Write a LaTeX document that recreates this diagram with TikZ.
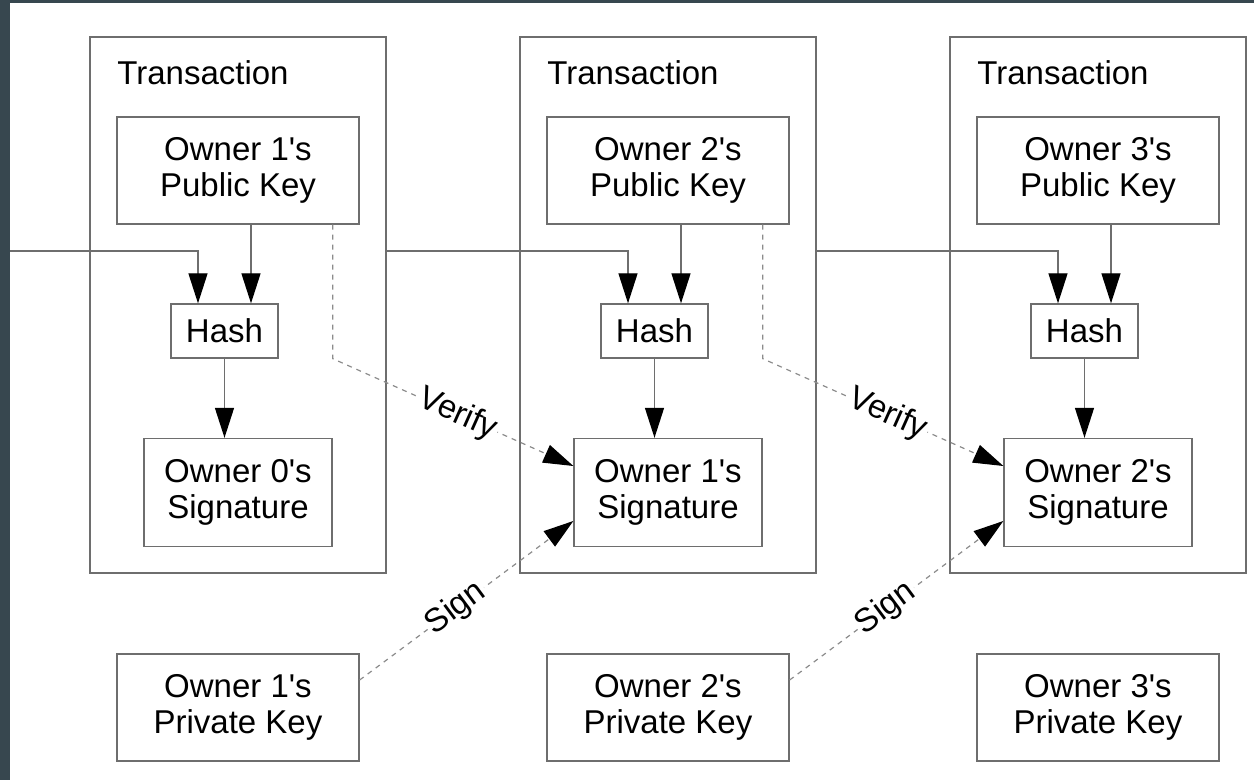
\documentclass[tikz,border=0pt]{standalone}
\usepackage{fontspec}
\setmainfont{Liberation Sans}
\usetikzlibrary{arrows.meta}
\definecolor{frame}{HTML}{37474F}
\definecolor{ln}{HTML}{6E6E6E}
\definecolor{dl}{HTML}{8C8C8C}
\newcommand{\sq}{\textquotesingle}
\begin{document}
\begin{tikzpicture}[x=0.5pt,y=-0.5pt,
  txt/.style={font=\fontsize{16.5}{18}\selectfont},
  box/.style={txt,draw=ln,line width=0.65pt,align=center,inner sep=0pt},
  tip/.style={-{Triangle[length=15pt,width=9.5pt,color=black]}},
  arr/.style={draw=ln,line width=0.65pt,tip},
  dsh/.style={draw=dl,line width=0.6pt,dash pattern=on 2.5pt off 2.5pt,tip},
  lbl/.style={txt,fill=white,inner sep=1pt,sloped}]
\fill[frame] (0,0) rectangle (1254,780);
\fill[white] (10,3) rectangle (1254,780);
\coordinate (in1) at (10,251);
\foreach \i in {1,2,3}{
  \pgfmathsetmacro{\ox}{(\i-1)*430}
  \pgfmathtruncatemacro{\p}{\i-1}
  \node[box,minimum width=148pt,minimum height=268pt] (tx\i) at (238+\ox,305) {};
  \node[txt,anchor=base west,inner sep=0pt] (tt\i) at (117+\ox,85) {Transaction};
  \node[box,minimum width=121pt,minimum height=53.5pt] (pub\i) at (238+\ox,170.5) {Owner \i\sq s\\Public Key};
  \node[box,minimum width=53.5pt,minimum height=27pt] (hash\i) at (224.5+\ox,331) {Hash};
  \node[box,minimum width=94pt,minimum height=54pt] (sig\i) at (238+\ox,492.5) {Owner \p\sq s\\Signature};
  \node[box,minimum width=121pt,minimum height=53.5pt] (priv\i) at (238+\ox,707.5) {Owner \i\sq s\\Private Key};
  \coordinate (ha\i) at ([xshift=13.25pt]hash\i.north);
  \coordinate (hb\i) at ([xshift=-13.25pt]hash\i.north);
  \draw[arr] (ha\i |- pub\i.south) -- (ha\i);
  \draw[arr] (hash\i.south) -- (hash\i.south |- sig\i.north);
  \coordinate (v\i) at ([xshift=-13.5pt]pub\i.south east);
}
\draw[arr] (in1) -| (hb1);
\draw[arr] (tx1.east |- in1) -| (hb2);
\draw[arr] (tx2.east |- in1) -| (hb3);
\foreach \i/\j in {1/2,2/3}{
  \draw[dsh] (v\i) -- (v\i |- hash\i.south) -- node[lbl,pos=0.52]{Verify} ([yshift=13.25pt]sig\j.west);
  \draw[dsh] ([yshift=13.75pt]priv\i.east) -- node[lbl,pos=0.45]{Sign} ([yshift=-14.25pt]sig\j.west);
}
\end{tikzpicture}
\end{document}
